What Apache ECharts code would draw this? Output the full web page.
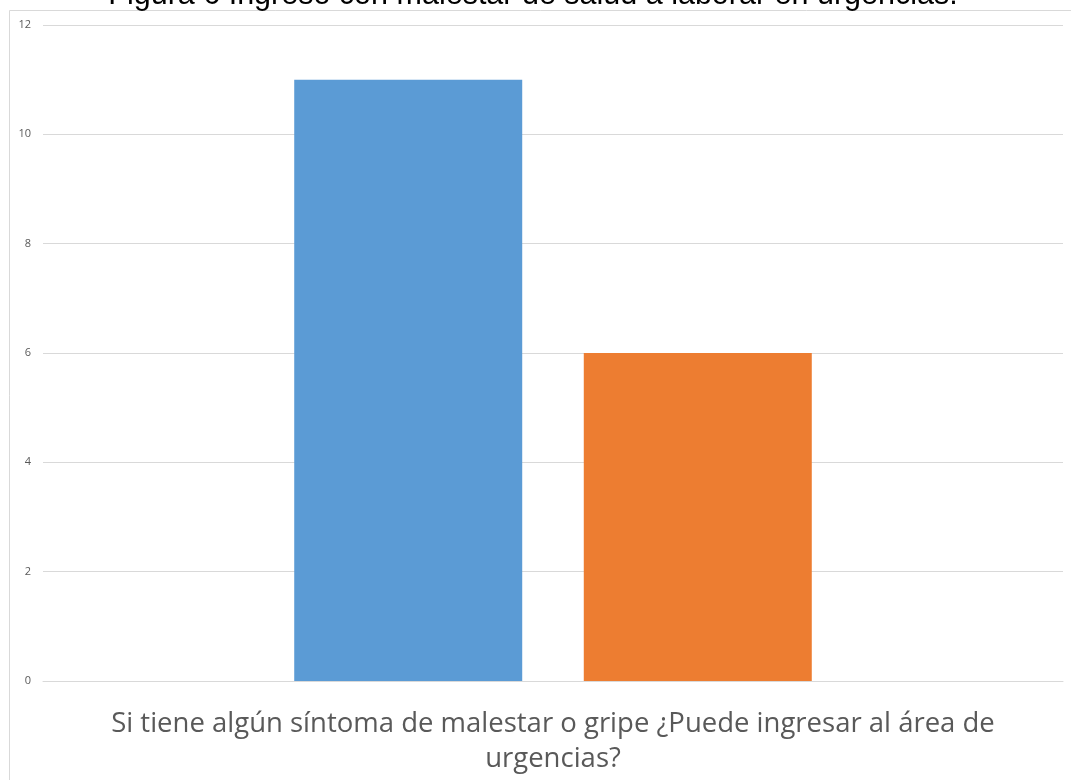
<!DOCTYPE html>
<html>
<head>
<meta charset="utf-8">
<script src="https://cdn.jsdelivr.net/npm/echarts@6/dist/echarts.min.js"></script>
<style>
html,body{margin:0;padding:0;background:#fff;}
#main{width:1071px;height:780px;}
</style>
</head>
<body>
<div id="main"></div>
<script>
const titleText = 'Figura 6 Ingreso con malestar de salud a laborar en urgencias.';
const categories = ['Si tiene algún síntoma de malestar o gripe ¿Puede ingresar al área de\nurgencias?'];
const seriesA = [11];
const seriesB = [6];
const yTicks = { min: 0, max: 12, interval: 2 };

const chart = echarts.init(document.getElementById('main'));
chart.setOption({
  animation: false,
  backgroundColor: '#ffffff',
  graphic: [
    { type: 'rect', left: 7, top: 8, shape: { width: 1100, height: 800 },
      style: { fill: 'none', stroke: '#d9d9d9', lineWidth: 1 }, silent: true, z: -1 },
    { type: 'text', x: 533, y: -20,
      style: { text: titleText, fill: '#000000', font: '30.5px "Liberation Sans", Arial, sans-serif',
               textAlign: 'center', verticalAlign: 'top' }, z: 10 }
  ],
  grid: { left: 43, right: 8, top: 25, bottom: 99, containLabel: false },
  xAxis: {
    type: 'category',
    data: categories,
    axisLine: { show: true, lineStyle: { color: '#d9d9d9', width: 1 } },
    axisTick: { show: false },
    axisLabel: { color: '#595959', fontFamily: '"Open Sans", sans-serif', fontSize: 27.5,
                 lineHeight: 35, margin: 26 }
  },
  yAxis: {
    type: 'value', min: yTicks.min, max: yTicks.max, interval: yTicks.interval,
    axisLine: { show: false }, axisTick: { show: false },
    splitLine: { lineStyle: { color: '#d9d9d9', width: 1 } },
    axisLabel: { color: '#595959', fontFamily: '"Open Sans", sans-serif', fontSize: 11, margin: 12 }
  },
  series: [
    { type: 'bar', data: seriesA, barWidth: 228, barGap: '27%', itemStyle: { color: '#5B9BD5' } },
    { type: 'bar', data: seriesB, barWidth: 228, barGap: '27%', itemStyle: { color: '#ED7D31' } }
  ]
});
</script>
</body>
</html>
